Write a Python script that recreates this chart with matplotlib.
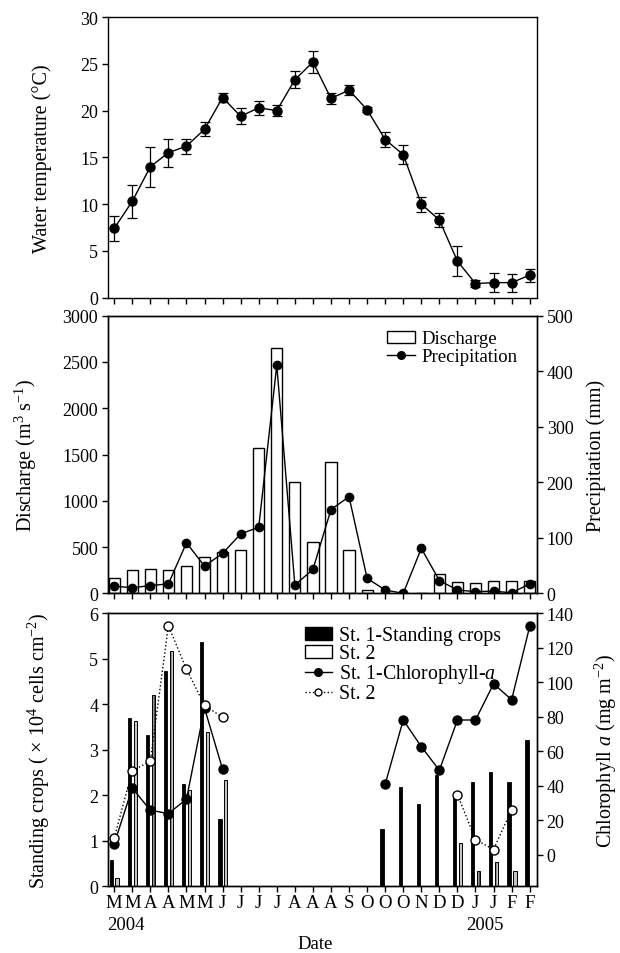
import matplotlib
matplotlib.use('Agg')
import matplotlib.pyplot as plt
from matplotlib.patches import Patch
from matplotlib.lines import Line2D
from matplotlib.transforms import blended_transform_factory
import numpy as np

plt.rcParams['font.family'] = ['Liberation Serif', 'DejaVu Serif']
plt.rcParams['mathtext.fontset'] = 'custom'
plt.rcParams['mathtext.rm'] = 'Liberation Serif'
plt.rcParams['mathtext.it'] = 'Liberation Serif:italic'
plt.rcParams['axes.linewidth'] = 1.0
plt.rcParams['hatch.linewidth'] = 0.6

nan = np.nan

# ---------------- data ----------------
months = ['M', 'M', 'A', 'A', 'M', 'M', 'J', 'J', 'J', 'J', 'A', 'A', 'A', 'S',
          'O', 'O', 'O', 'N', 'D', 'D', 'J', 'J', 'F', 'F']
years = ['2004', '2005']

temp = [7.4, 10.3, 14.0, 15.5, 16.2, 18.0, 21.4, 19.4, 20.3, 20.0, 23.3, 25.2,
        21.3, 22.2, 20.1, 16.9, 15.3, 10.0, 8.3, 3.9, 1.5, 1.6, 1.6, 2.4]
temp_err = [1.35, 1.75, 2.15, 1.5, 0.8, 0.75, 0.45, 0.85, 0.75, 0.6, 0.9, 1.2,
            0.6, 0.55, 0.25, 0.8, 1.0, 0.8, 0.8, 1.6, 0.4, 1.05, 0.95, 0.7]

discharge = [166, 253, 260, 253, 293, 398, 445, 466, 1573, 2654, 1200, 553,
             1424, 463, 33, 0, 0, 0, 213, 120, 115, 130, 130, 135]
precip = [13, 10, 14, 17, 91, 49, 72, 107, 119, 411, 15, 43,
          151, 174, 27, 6, 0, 81, 23, 6, 3, 4, 1, 17]

st1_crops = [0.58, 3.71, 3.33, 4.74, 2.25, 5.37, 1.48] + [nan] * 8 + \
            [1.25, 2.18, 1.80, 2.45, 1.94, 2.29, 2.52, 2.29, 3.22]
st2_crops = [0.19, 3.63, 4.20, 5.17, 2.11, 3.40, 2.33] + [nan] * 12 + \
            [0.95, 0.34, 0.54, 0.34] + [nan]
st1_chl = [6.2, 38.6, 25.7, 23.8, 32.1, 85.0, 49.5] + [nan] * 8 + \
          [40.8, 78.1, 62.6, 48.9, 78.1, 78.1, 99.1, 89.9, 132.4]
st2_chl = [9.5, 48.7, 54.1, 132.8, 107.6, 86.6, 79.6] + [nan] * 12 + \
          [34.8, 8.7, 2.9, 26.1] + [nan]

x = np.arange(len(months))

# ---------------- figure ----------------
fig = plt.figure(figsize=(6.2, 9.54), dpi=100)
L, W = 0.174, 0.692
ax1 = fig.add_axes([L, 0.687, W, 0.294])
ax2 = fig.add_axes([L, 0.377, W, 0.291])
ax3 = fig.add_axes([L, 0.070, W, 0.286])

TICK_FS = 13
LAB_FS = 14.5
XLIM = (-0.35, 23.4)

def style_x(ax, labels=False):
    ax.set_xlim(*XLIM)
    ax.set_xticks(x)
    if labels:
        ax.set_xticklabels(months, fontsize=13.5)
    else:
        ax.set_xticklabels([])
    ax.tick_params(axis='x', direction='out', length=4.5, width=1, pad=1)
    ax.tick_params(axis='y', direction='out', length=4, width=1,
                   labelsize=TICK_FS, pad=3)

def style_right(ax):
    ax.set_xlim(*XLIM)
    ax.tick_params(axis='y', direction='out', length=4, width=1,
                   labelsize=TICK_FS, pad=3)

# ---- panel 1: water temperature ----
ax1.errorbar(x, temp, yerr=temp_err, fmt='-o', color='black', ms=6.5,
             lw=1.0, elinewidth=0.9, capsize=3.3, capthick=0.9)
ax1.set_ylim(0, 30)
ax1.set_yticks(range(0, 31, 5))
style_x(ax1)
ax1.set_ylabel('Water temperature (°C)', fontsize=LAB_FS)
ax1.yaxis.set_label_coords(-0.13, 0.5)

# ---- panel 2: discharge + precipitation ----
ax2.bar(x, discharge, width=0.62, facecolor='white', edgecolor='black', lw=1.0)
ax2.set_ylim(0, 3000)
ax2.set_yticks(range(0, 3001, 500))
style_x(ax2)
ax2.set_ylabel('Discharge (m$^3$ s$^{-1}$)', fontsize=LAB_FS)
ax2.yaxis.set_label_coords(-0.16, 0.5)

ax2b = ax2.twinx()
ax2b.plot(x, precip, '-o', color='black', ms=6, lw=1.0)
ax2b.set_ylim(0, 500)
ax2b.set_yticks(range(0, 501, 100))
style_right(ax2b)
ax2b.set_ylabel('Precipitation (mm)', fontsize=LAB_FS)
ax2b.yaxis.set_label_coords(1.115, 0.5)

h_dis = Patch(facecolor='white', edgecolor='black', lw=1.0)
h_pre = Line2D([], [], color='black', marker='o', ms=5.5, lw=1.0)
ax2b.legend([h_dis, h_pre], ['Discharge', 'Precipitation'], loc='upper right',
            bbox_to_anchor=(0.985, 0.995), frameon=False, fontsize=13.5,
            handlelength=1.5, handleheight=0.6, handletextpad=0.35,
            labelspacing=0.05, borderpad=0.2)

# ---- panel 3: standing crops + chlorophyll a ----
bw = 0.2
s1 = np.array(st1_crops)
s2 = np.array(st2_crops)
m1 = np.isfinite(s1)
m2 = np.isfinite(s2)
ax3.bar(x[m1] - 0.16, s1[m1], width=bw, facecolor='black', edgecolor='black', lw=0.6)
ax3.bar(x[m2] + 0.17, s2[m2], width=bw, facecolor='#c4c4c4', edgecolor='black',
        lw=0.7, hatch='||')
ax3.set_ylim(0, 6)
ax3.set_yticks(range(0, 7))
style_x(ax3, labels=True)
ax3.set_ylabel('Standing crops ( $\\times$ 10$^4$ cells cm$^{-2}$)', fontsize=LAB_FS)
ax3.yaxis.set_label_coords(-0.13, 0.5)

ax3b = ax3.twinx()
ax3b.plot(x, st1_chl, '-o', color='black', ms=6.5, lw=1.0)
ax3b.plot(x, st2_chl, ':o', color='black', ms=6.5, lw=1.0,
          markerfacecolor='white', markeredgecolor='black', markeredgewidth=1.0)
ax3b.set_ylim(-18.4, 140)
ax3b.set_yticks(range(0, 141, 20))
style_right(ax3b)
ax3b.set_ylabel('Chlorophyll $a$ (mg m$^{-2}$)', fontsize=LAB_FS)
ax3b.yaxis.set_label_coords(1.13, 0.5)

h1 = Patch(facecolor='black', edgecolor='black')
h2 = Patch(facecolor='white', edgecolor='black', lw=1.0)
h3 = Line2D([], [], color='black', marker='o', ms=5.5, lw=1.0)
h4 = Line2D([], [], color='black', marker='o', ms=5, lw=1.0, ls=':',
            markerfacecolor='white')
ax3b.legend([h1, h2, h3, h4],
            ['St. 1-Standing crops', 'St. 2', 'St. 1-Chlorophyll-$a$', 'St. 2'],
            loc='upper right', bbox_to_anchor=(0.947, 1.0), frameon=False,
            fontsize=14.3, handlelength=1.4, handleheight=0.6, handletextpad=0.35,
            labelspacing=-0.05, borderpad=0.15)

# year labels and x label
tr = blended_transform_factory(ax3.transData, ax3.transAxes)
ax3.text(0.65, -0.14, years[0], transform=tr, ha='center', va='center', fontsize=13.5)
ax3.text(20.5, -0.14, years[1], transform=tr, ha='center', va='center', fontsize=13.5)
fig.text(315 / 620, 1 - 945 / 954, 'Date', ha='center', va='center', fontsize=13.5)

fig.savefig('out.png', dpi=100)
